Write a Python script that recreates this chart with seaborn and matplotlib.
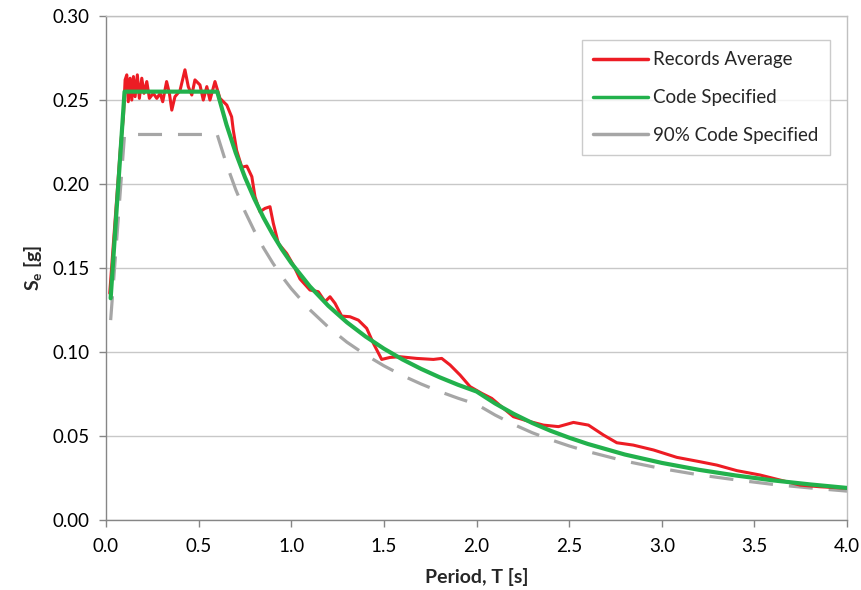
import pandas as pd
import matplotlib
matplotlib.use("Agg")
import matplotlib.pyplot as plt
import seaborn as sns

## Données

# Moyenne des enregistrements
periode_moy = [0.02, 0.05, 0.08, 0.094, 0.103, 0.112, 0.120, 0.130, 0.139, 0.148, 0.157,
               0.169, 0.180, 0.193, 0.205, 0.220, 0.234, 0.255, 0.274, 0.292, 0.306,
               0.327, 0.342, 0.355, 0.372, 0.399, 0.426, 0.444, 0.463, 0.480, 0.507,
               0.525, 0.544, 0.561, 0.588, 0.615, 0.652, 0.678, 0.687, 0.705, 0.733,
               0.760, 0.787, 0.804, 0.831, 0.858, 0.885, 0.903, 0.930, 0.975, 1.011,
               1.047, 1.101, 1.146, 1.182, 1.209, 1.236, 1.272, 1.317, 1.362, 1.407,
               1.443, 1.488, 1.533, 1.587, 1.677, 1.767, 1.812, 1.857, 1.911, 1.965,
               2.028, 2.082, 2.145, 2.199, 2.271, 2.361, 2.442, 2.523, 2.604, 2.685,
               2.757, 2.846, 2.955, 3.081, 3.206, 3.297, 3.405, 3.530, 3.638, 3.746,
               3.854, 4.0]
se_moy = [0.135, 0.180, 0.225, 0.240, 0.262, 0.265, 0.249, 0.263, 0.250, 0.264, 0.252,
          0.265, 0.251, 0.263, 0.254, 0.261, 0.251, 0.254, 0.251, 0.254, 0.249,
          0.261, 0.254, 0.244, 0.252, 0.2555, 0.268, 0.258, 0.253, 0.262, 0.259,
          0.250, 0.258, 0.250, 0.261, 0.251, 0.247, 0.240, 0.232, 0.220, 0.210,
          0.2107, 0.2044, 0.1925, 0.1835, 0.1855, 0.1865, 0.1766, 0.1647, 0.1587, 0.1518,
          0.1435, 0.1369, 0.1359, 0.130, 0.1329, 0.129, 0.1214, 0.121, 0.119, 0.1141,
          0.1052, 0.0956, 0.0968, 0.0972, 0.0962, 0.0956, 0.0962, 0.0923, 0.0863, 0.0794,
          0.0754, 0.0724, 0.0665, 0.0615, 0.0591, 0.0565, 0.0556, 0.0581, 0.0565, 0.0506,
          0.0460, 0.0446, 0.0417, 0.0373, 0.0347, 0.0327, 0.0294, 0.0268, 0.0238, 0.0208,
          0.0198, 0.0189]

# Spectre réglementaire
periode_code = [0.025, 0.1, 0.6, 0.65, 0.7, 0.75, 0.8, 0.85, 0.9, 0.95, 1.0, 1.1, 1.2,
                1.3, 1.4, 1.5, 1.6, 1.7, 1.8, 1.9, 2.0, 2.1, 2.2, 2.3, 2.4, 2.5, 2.6,
                2.8, 3.0, 3.2, 3.4, 3.6, 3.8, 4.0]
se_code = [0.132, 0.255, 0.255, 0.2354, 0.2186, 0.204, 0.1913, 0.180, 0.170, 0.161,
           0.153, 0.1391, 0.1275, 0.1177, 0.1093, 0.102, 0.0956, 0.090, 0.085, 0.0805,
           0.0765, 0.0694, 0.0632, 0.0578, 0.0531, 0.049, 0.0453, 0.039, 0.034, 0.0299,
           0.0265, 0.0236, 0.0212, 0.0191]
se_code_90 = [0.119, 0.2295, 0.2295, 0.2119, 0.1967, 0.1836, 0.1722, 0.162, 0.153, 0.1449,
              0.1377, 0.1252, 0.1148, 0.1059, 0.0984, 0.0918, 0.086, 0.081, 0.0765, 0.0725,
              0.0689, 0.0625, 0.0569, 0.052, 0.0478, 0.0441, 0.0408, 0.0351, 0.0306, 0.0269,
              0.0239, 0.0212, 0.0191, 0.0172]

x_ticks = [0.0, 0.5, 1.0, 1.5, 2.0, 2.5, 3.0, 3.5, 4.0]
y_ticks = [0.00, 0.05, 0.10, 0.15, 0.20, 0.25, 0.30]

df_moy = pd.DataFrame({"T": periode_moy, "Se": se_moy})
df_code = pd.DataFrame({"T": periode_code, "Se": se_code, "Se90": se_code_90})

## Style

sns.set_style("white")
plt.rcParams["font.family"] = ["Lato", "DejaVu Sans"]
plt.rcParams["mathtext.fontset"] = "custom"
plt.rcParams["mathtext.rm"] = "Lato:bold"
plt.rcParams["mathtext.bf"] = "Lato:bold"

rouge = "#ED1C24"
vert = "#22B14C"
gris = "#A6A6A6"

fig = plt.figure(figsize=(8.62, 5.90), dpi=100)
ax = fig.add_axes([0.123, 0.1186, 0.8597, 0.8542])

# 90 % en dessous, puis la moyenne, puis le code par-dessus
sns.lineplot(data=df_code, x="T", y="Se90", ax=ax, color=gris, linewidth=2.3,
             label="90% Code Specified", zorder=2)
ax.lines[-1].set_dashes((7.5, 5))
sns.lineplot(data=df_moy, x="T", y="Se", ax=ax, color=rouge, linewidth=2.2,
             label="Records Average", zorder=3)
sns.lineplot(data=df_code, x="T", y="Se", ax=ax, color=vert, linewidth=3.0,
             label="Code Specified", zorder=4)

ax.set_xlim(0, 4.0)
ax.set_ylim(0, 0.30)
ax.set_xticks(x_ticks)
ax.set_yticks(y_ticks)
ax.set_xticklabels([f"{v:.1f}" for v in x_ticks])
ax.set_yticklabels([f"{v:.2f}" for v in y_ticks])
ax.tick_params(axis="both", labelsize=13.5, colors="#868686", labelcolor="black",
               direction="out", length=5, width=1, left=True, bottom=True)
ax.tick_params(axis="y", pad=7)
ax.tick_params(axis="x", pad=8)

ax.yaxis.grid(True, color="#C8C8C8", linewidth=1)
ax.set_axisbelow(True)
for cote in ["left", "bottom"]:
    ax.spines[cote].set_color("#868686")
for cote in ["right", "top"]:
    ax.spines[cote].set_color("#C0C0C0")
for s in ax.spines.values():
    s.set_linewidth(1)

ax.set_xlabel("Period, T [s]", fontsize=14, fontweight="bold", labelpad=9)
ax.set_ylabel("S$_\\mathbf{e}$ [g]", fontsize=14, fontweight="bold", labelpad=5)

handles, labels = ax.get_legend_handles_labels()
ordre = [1, 2, 0]
leg = ax.legend([handles[i] for i in ordre], [labels[i] for i in ordre],
                loc="upper right", bbox_to_anchor=(0.977, 0.952), borderaxespad=0,
                fontsize=13.5, frameon=True, fancybox=False, handlelength=2.9,
                labelspacing=1.1, borderpad=0.6, handletextpad=0.3)
leg.get_frame().set_edgecolor("#BFBFBF")
leg.get_frame().set_linewidth(1)
for h in leg.get_lines():
    h.set_linewidth(2.5)
leg.get_lines()[2].set_linestyle("-")

fig.savefig("out.png", dpi=100)
